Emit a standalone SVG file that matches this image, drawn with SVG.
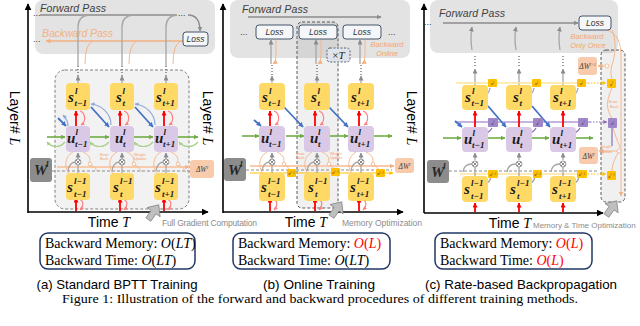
<svg xmlns="http://www.w3.org/2000/svg" width="640" height="326" viewBox="0 0 640 326">
<defs>
<style>
.ny{fill:#ffd966}
.np{fill:#d9c9e6}
.nv{font-family:"Liberation Serif",serif;font-weight:bold;font-style:italic;font-size:15px;fill:#1a1a1a}
.ns{font-family:"Liberation Serif",serif;font-weight:bold;font-style:italic;font-size:9px;fill:#1a1a1a}
.gbox{fill:#e3e3e3}
.dash{fill:#f2f2f2;stroke:#7f7f7f;stroke-width:1;stroke-dasharray:3 2}
.lossr{fill:#f5f6f8;stroke:#44546a;stroke-width:1}
.lt{font-family:"Liberation Sans",sans-serif;font-style:italic;font-size:8.5px;fill:#333}
.fp{font-family:"Liberation Sans",sans-serif;font-style:italic;font-size:10.5px;fill:#404040}
.bp{font-family:"Liberation Sans",sans-serif;font-style:italic;font-size:10.5px;fill:#f4b183}
.bo{font-family:"Liberation Sans",sans-serif;font-style:italic;font-size:7.5px;fill:#f4a56e}
.ax{stroke:#000;stroke-width:1.6;fill:none}
.axl{font-family:"Liberation Sans",sans-serif;font-size:14px;fill:#000}
.fw{stroke:#8c8c8c;stroke-width:1.3;fill:none}
.bw{stroke:#f4b183;stroke-width:1.3;fill:none}
.gr{stroke:#a6a6a6;stroke-width:1.3;fill:none}
.dot{stroke:#404040;stroke-width:1;stroke-dasharray:1 2;fill:none}
.rd{stroke:#ff0000;stroke-width:1.8;fill:none}
.pk{stroke:#ff8080;stroke-width:1.2;fill:none}
.bl{stroke:#4472c4;stroke-width:1.8;fill:none}
.lb{stroke:#8faadc;stroke-width:1.2;fill:none}
.gn{stroke:#70ad47;stroke-width:1.6;fill:none}
.lg{stroke:#a9d18e;stroke-width:1.2;fill:none}
.or{stroke:#f4b183;stroke-width:0.9;fill:none}
.orl{stroke:#f8cbad;stroke-width:1.8;fill:none}
.gd{stroke:#8c8c8c;stroke-width:1;stroke-dasharray:3 2;fill:none}
.gold{stroke:#ffc000;stroke-width:1.2;fill:none}
.lgold{stroke:#ffe699;stroke-width:1.6;fill:none}
.pl{stroke:#8e6bbf;stroke-width:1.2;fill:none}
.mc{fill:#fff;stroke:#7f7f7f;stroke-width:0.8}
.mx{stroke:#595959;stroke-width:0.7}
.oc{fill:#fff;stroke:#f4b183;stroke-width:0.8}
.wb{fill:#8c8c8c}
.db{fill:#f8cbad}
.dt{font-family:"Liberation Serif",serif;font-style:italic;font-size:7.5px;fill:#404040}
.tiny{font-family:"Liberation Sans",sans-serif;font-size:3.8px;fill:#f4a070}
.opt{font-family:"Liberation Sans",sans-serif;font-size:8.5px;fill:#8c8c8c}
.cb{fill:#fff;stroke:#203864;stroke-width:1.5}
.ct{font-family:"Liberation Serif",serif;font-size:14px;fill:#000}
.cap{font-family:"Liberation Sans",sans-serif;font-size:13px;fill:#000}
.fig{font-family:"Liberation Serif",serif;font-size:13.5px;fill:#000}
.ey{fill:#ffc000}
.ep{fill:#9f86c9}
.et{font-family:"Liberation Serif",serif;font-style:italic;font-size:4.5px;fill:#333}
.cur{fill:#bfbfbf;stroke:#7f7f7f;stroke-width:0.7}
.dd{font-family:"Liberation Sans",sans-serif;font-size:9px;fill:#404040}
</style>
<marker id="mK" viewBox="0 0 10 10" refX="9" refY="5" markerWidth="7" markerHeight="7" markerUnits="userSpaceOnUse" orient="auto"><path d="M0,0 L10,5 L0,10 z" fill="#000"/></marker>
<marker id="mG" viewBox="0 0 10 10" refX="9" refY="5" markerWidth="5" markerHeight="5" markerUnits="userSpaceOnUse" orient="auto"><path d="M0,0 L10,5 L0,10 z" fill="#8c8c8c"/></marker>
<marker id="mO" viewBox="0 0 10 10" refX="9" refY="5" markerWidth="5" markerHeight="5" markerUnits="userSpaceOnUse" orient="auto"><path d="M0,0 L10,5 L0,10 z" fill="#f4b183"/></marker>
<marker id="mR" viewBox="0 0 10 10" refX="9" refY="5" markerWidth="5" markerHeight="5" markerUnits="userSpaceOnUse" orient="auto"><path d="M0,0 L10,5 L0,10 z" fill="#ff0000"/></marker>
<marker id="mP" viewBox="0 0 10 10" refX="9" refY="5" markerWidth="4" markerHeight="4" markerUnits="userSpaceOnUse" orient="auto"><path d="M0,0 L10,5 L0,10 z" fill="#ff8080"/></marker>
<marker id="mB" viewBox="0 0 10 10" refX="9" refY="5" markerWidth="5" markerHeight="5" markerUnits="userSpaceOnUse" orient="auto"><path d="M0,0 L10,5 L0,10 z" fill="#4472c4"/></marker>
<marker id="mLB" viewBox="0 0 10 10" refX="9" refY="5" markerWidth="4" markerHeight="4" markerUnits="userSpaceOnUse" orient="auto"><path d="M0,0 L10,5 L0,10 z" fill="#8faadc"/></marker>
<marker id="mGn" viewBox="0 0 10 10" refX="9" refY="5" markerWidth="5" markerHeight="5" markerUnits="userSpaceOnUse" orient="auto"><path d="M0,0 L10,5 L0,10 z" fill="#70ad47"/></marker>
<marker id="mLG" viewBox="0 0 10 10" refX="9" refY="5" markerWidth="4" markerHeight="4" markerUnits="userSpaceOnUse" orient="auto"><path d="M0,0 L10,5 L0,10 z" fill="#a9d18e"/></marker>
<marker id="mY" viewBox="0 0 10 10" refX="9" refY="5" markerWidth="4" markerHeight="4" markerUnits="userSpaceOnUse" orient="auto"><path d="M0,0 L10,5 L0,10 z" fill="#ffc000"/></marker>
<marker id="mPu" viewBox="0 0 10 10" refX="9" refY="5" markerWidth="4" markerHeight="4" markerUnits="userSpaceOnUse" orient="auto"><path d="M0,0 L10,5 L0,10 z" fill="#8e6bbf"/></marker>
<path id="curs" d="M0,-10 L8,-1 L3,-1 L3,8 L-3,8 L-3,-1 L-8,-1 Z"/>
</defs>
<rect width="640" height="326" fill="#fff"/>

<!-- ================= PANEL A ================= -->
<g id="panel-a">
<rect id="a-pass-box" class="gbox" x="35" y="0" width="180" height="54" rx="8"/>
<rect id="a-unroll-box" class="dash" x="55" y="70" width="134" height="139" rx="10"/>
<text class="fp" x="40" y="12" textLength="66">Forward Pass</text>
<text class="bp" x="42" y="37" textLength="71">Backward Pass</text>
<text class="dd" x="33" y="16">...</text>
<text class="dd" x="178" y="16">...</text>
<text class="dd" x="33" y="42">...</text>
<g id="a-connectors">
<line class="fw" x1="40" y1="15" x2="177" y2="15"/>
<path class="fw" d="M188,15 Q200,15 200,31" marker-end="url(#mG)"/>
<path class="bw" d="M183,41 H46" marker-end="url(#mO)"/>
<path class="gr" d="M78,66 V27 Q78,16 89,15"/>
<path class="gr" d="M122,66 V27 Q122,16 133,15"/>
<path class="gr" d="M166,66 V27 Q166,16 177,15"/>
<path class="or" d="M93,41 Q85,44 85,64"/>
<path class="or" d="M137,41 Q129,44 129,64"/>
<path class="or" d="M181,41 Q173,44 173,64"/>
<line class="dot" x1="78" y1="66" x2="78" y2="76"/>
<line class="dot" x1="122" y1="66" x2="122" y2="76"/>
<line class="dot" x1="166" y1="66" x2="166" y2="76"/>
<line class="gr" x1="78" y1="83" x2="78" y2="76" marker-end="url(#mG)"/>
<line class="gr" x1="122" y1="83" x2="122" y2="76" marker-end="url(#mG)"/>
<line class="gr" x1="166" y1="83" x2="166" y2="76" marker-end="url(#mG)"/>
<line class="rd" x1="76" y1="126" x2="76" y2="111" marker-end="url(#mR)"/>
<line class="rd" x1="120" y1="126" x2="120" y2="111" marker-end="url(#mR)"/>
<line class="rd" x1="164" y1="126" x2="164" y2="111" marker-end="url(#mR)"/>
<path class="pk" d="M80,111 C86,113 86,122 81,125" marker-end="url(#mP)"/>
<path class="pk" d="M124,111 C130,113 130,122 125,125" marker-end="url(#mP)"/>
<path class="pk" d="M168,111 C174,113 174,122 169,125" marker-end="url(#mP)"/>
<line class="bl" x1="58" y1="118" x2="66" y2="126" marker-end="url(#mB)"/>
<line class="bl" x1="91" y1="107" x2="109" y2="127" marker-end="url(#mB)"/>
<line class="bl" x1="135" y1="107" x2="153" y2="127" marker-end="url(#mB)"/>
<path class="lb" d="M68,126 C68,121 66,118 63,115" marker-end="url(#mLB)"/>
<path class="lb" d="M111,125 C111,113 101,105 91,104" marker-end="url(#mLB)"/>
<path class="lb" d="M155,125 C155,113 145,105 135,104" marker-end="url(#mLB)"/>
<line class="gn" x1="47" y1="137" x2="65" y2="137" marker-end="url(#mGn)"/>
<line class="gn" x1="90" y1="137" x2="109" y2="137" marker-end="url(#mGn)"/>
<line class="gn" x1="134" y1="137" x2="153" y2="137" marker-end="url(#mGn)"/>
<line class="gn" x1="178" y1="137" x2="198" y2="137" marker-end="url(#mGn)"/>
<path class="lg" d="M65,142 C60,148 52,148 47,142" marker-end="url(#mLG)"/>
<path class="lg" d="M109,142 C104,148 95,148 90,142" marker-end="url(#mLG)"/>
<path class="lg" d="M153,142 C148,148 139,148 134,142" marker-end="url(#mLG)"/>
<path class="lg" d="M198,142 C193,148 184,148 179,142" marker-end="url(#mLG)"/>
<path class="orl" d="M57,167 H189" marker-end="url(#mO)"/>
<line class="gd" x1="52" y1="171" x2="190" y2="171"/>
<line class="gr" x1="78" y1="159" x2="78" y2="153" marker-end="url(#mG)"/>
<line class="gr" x1="122" y1="159" x2="122" y2="153" marker-end="url(#mG)"/>
<line class="gr" x1="166" y1="159" x2="166" y2="153" marker-end="url(#mG)"/>
<line class="gr" x1="78" y1="173" x2="78" y2="165"/>
<line class="gr" x1="122" y1="173" x2="122" y2="165"/>
<line class="gr" x1="166" y1="173" x2="166" y2="165"/>
<path class="gr" d="M68,171 Q69,163 75,162"/>
<path class="gr" d="M112,171 Q113,163 119,162"/>
<path class="gr" d="M156,171 Q157,163 163,162"/>
<path class="or" d="M73,152 C64,157 64,168 70,175"/>
<path class="or" d="M117,152 C108,157 108,168 114,175"/>
<path class="or" d="M161,152 C152,157 152,168 158,175"/>
<path class="or" d="M83,152 C90,155 91,160 89,163 M91,165 C95,167 96,170 98,172"/>
<path class="or" d="M127,152 C134,155 135,160 133,163 M135,165 C139,167 140,170 142,172"/>
<path class="or" d="M171,152 C178,155 179,160 177,163 M179,165 C183,167 184,170 186,172"/>
<circle class="oc" cx="90" cy="164" r="1.8"/>
<circle class="oc" cx="134" cy="164" r="1.8"/>
<circle class="oc" cx="178" cy="164" r="1.8"/>
<circle class="mc" cx="78" cy="162" r="3"/><path class="mx" d="M76,160 L80,164 M80,160 L76,164"/>
<circle class="mc" cx="122" cy="162" r="3"/><path class="mx" d="M120,160 L124,164 M124,160 L120,164"/>
<circle class="mc" cx="166" cy="162" r="3"/><path class="mx" d="M164,160 L168,164 M168,160 L164,164"/>
<line class="rd" x1="76" y1="211" x2="76" y2="198" marker-end="url(#mR)"/>
<line class="rd" x1="120" y1="211" x2="120" y2="198" marker-end="url(#mR)"/>
<line class="rd" x1="164" y1="211" x2="164" y2="198" marker-end="url(#mR)"/>
<path class="pk" d="M79,199 C84,201 84,206 80,210" marker-end="url(#mP)"/>
<path class="pk" d="M123,199 C128,201 128,206 124,210" marker-end="url(#mP)"/>
<path class="pk" d="M167,199 C172,201 172,206 168,210" marker-end="url(#mP)"/>
</g>
<text class="tiny" x="100" y="156">Error</text><text class="tiny" x="100" y="160">Back</text>
<text class="tiny" x="134" y="156">Weight</text><text class="tiny" x="134" y="160">Update</text>
<g id="a-loss"><rect class="lossr" x="183" y="32" width="25" height="14" rx="3"/><text class="lt" x="195.5" y="42" text-anchor="middle">Loss</text></g>
<g id="a-s-l-tm1"><rect class="ny" x="66" y="83" width="24" height="27" rx="4"/><text class="nv" x="68" y="102">s</text><text class="ns" x="75" y="94">l</text><text class="ns" x="74.5" y="106">t−1</text></g>
<g id="a-s-l-t"><rect class="ny" x="110" y="83" width="24" height="27" rx="4"/><text class="nv" x="116" y="102">s</text><text class="ns" x="122.5" y="94">l</text><text class="ns" x="122.5" y="106">t</text></g>
<g id="a-s-l-tp1"><rect class="ny" x="154" y="83" width="24" height="27" rx="4"/><text class="nv" x="156" y="102">s</text><text class="ns" x="163" y="94">l</text><text class="ns" x="162.5" y="106">t+1</text></g>
<g id="a-u-tm1"><rect class="np" x="66" y="126" width="24" height="26" rx="4"/><text class="nv" x="67" y="143">u</text><text class="ns" x="75.5" y="135">l</text><text class="ns" x="75" y="147">t−1</text></g>
<g id="a-u-t"><rect class="np" x="110" y="126" width="24" height="26" rx="4"/><text class="nv" x="115" y="143">u</text><text class="ns" x="123" y="135">l</text><text class="ns" x="123" y="147">t</text></g>
<g id="a-u-tp1"><rect class="np" x="154" y="126" width="24" height="26" rx="4"/><text class="nv" x="155" y="143">u</text><text class="ns" x="163.5" y="135">l</text><text class="ns" x="163" y="147">t+1</text></g>
<g id="a-s-lm1-tm1"><rect class="ny" x="66" y="173" width="24" height="27" rx="4"/><text class="nv" x="67" y="192">s</text><text class="ns" x="74" y="184">l−1</text><text class="ns" x="74" y="197">t−1</text></g>
<g id="a-s-lm1-t"><rect class="ny" x="110" y="173" width="24" height="27" rx="4"/><text class="nv" x="113" y="192">s</text><text class="ns" x="120" y="184">l−1</text><text class="ns" x="120" y="197">t</text></g>
<g id="a-s-lm1-tp1"><rect class="ny" x="154" y="173" width="24" height="27" rx="4"/><text class="nv" x="155" y="192">s</text><text class="ns" x="162" y="184">l−1</text><text class="ns" x="162" y="197">t+1</text></g>
<g id="a-W"><rect class="wb" x="30" y="158" width="22" height="24" rx="3"/><text class="nv" x="34" y="175" style="fill:#262626">W</text><text class="ns" x="46" y="167" style="fill:#262626">l</text></g>
<g id="a-dW"><rect class="db" x="190" y="160" width="24" height="18" rx="3"/><text class="dt" x="202" y="172" text-anchor="middle">ΔW<tspan font-size="5" dy="-3">l</tspan></text></g>
<g id="a-axes">
<line class="ax" x1="28" y1="213" x2="28" y2="4" marker-end="url(#mK)"/>
<line class="ax" x1="28" y1="212" x2="208" y2="212" marker-end="url(#mK)"/>
</g>
<text class="axl" transform="translate(10,118) rotate(90)" text-anchor="middle">Layer# <tspan font-style="italic" font-family="Liberation Serif">L</tspan></text>
<text class="axl" x="109" y="227" text-anchor="middle">Time <tspan font-style="italic" font-family="Liberation Serif">T</tspan></text>
<use href="#curs" class="cur" transform="translate(153,213) rotate(35)"/>
<text class="opt" x="162" y="226" textLength="95">Full Gradient Computation</text>
<g id="a-complexity"><rect class="cb" x="40" y="233" width="155" height="36" rx="8"/>
<text class="ct" x="45" y="248">Backward Memory: <tspan font-style="italic">O</tspan>(<tspan font-style="italic">LT</tspan>)</text>
<text class="ct" x="45" y="265">Backward Time: <tspan font-style="italic">O</tspan>(<tspan font-style="italic">LT</tspan>)</text></g>
<text class="cap" x="117" y="289" text-anchor="middle" textLength="161" lengthAdjust="spacingAndGlyphs">(a) Standard BPTT Training</text>
</g>

<!-- ================= PANEL B ================= -->
<g id="panel-b">
<rect id="b-pass-box" class="gbox" x="230" y="0" width="180" height="58" rx="8"/>
<rect id="b-online-col" x="297" y="22" width="41" height="186" rx="5" fill="#000" fill-opacity="0.06" stroke="#595959" stroke-width="1" stroke-dasharray="3 2"/>
<text class="fp" x="242" y="13" textLength="66">Forward Pass</text>
<text class="dd" x="240" y="35">...</text>
<text class="dd" x="388" y="35">...</text>
<text class="bo" x="387" y="47" text-anchor="middle">Backward</text>
<text class="bo" x="387" y="56" text-anchor="middle">Online</text>
<g id="b-connectors">
<line class="fw" x1="248" y1="17" x2="381" y2="17" stroke="#b0b0b0" marker-end="url(#mG)"/>
<line class="gr" x1="271" y1="64" x2="271" y2="40" marker-end="url(#mG)"/>
<line class="gr" x1="316" y1="64" x2="316" y2="40" marker-end="url(#mG)"/>
<line class="gr" x1="360" y1="64" x2="360" y2="40" marker-end="url(#mG)"/>
<path class="or" d="M276,40 V56 Q276,62 273,64" marker-end="url(#mO)"/>
<path class="or" d="M321,40 V56 Q321,62 318,64" marker-end="url(#mO)"/>
<path class="or" d="M365,40 V56 Q365,62 362,64" marker-end="url(#mO)"/>
<line class="dot" x1="272" y1="65" x2="272" y2="76"/>
<line class="dot" x1="317" y1="65" x2="317" y2="76"/>
<line class="dot" x1="361" y1="65" x2="361" y2="76"/>
<line class="gr" x1="272" y1="83" x2="272" y2="76" marker-end="url(#mG)"/>
<line class="gr" x1="317" y1="83" x2="317" y2="76" marker-end="url(#mG)"/>
<line class="gr" x1="361" y1="83" x2="361" y2="76" marker-end="url(#mG)"/>
<line class="rd" x1="270" y1="126" x2="270" y2="111" marker-end="url(#mR)"/>
<line class="rd" x1="315" y1="126" x2="315" y2="111" marker-end="url(#mR)"/>
<line class="rd" x1="359" y1="126" x2="359" y2="111" marker-end="url(#mR)"/>
<path class="pk" d="M274,111 C280,113 280,122 275,125" marker-end="url(#mP)"/>
<path class="pk" d="M319,111 C325,113 325,122 320,125" marker-end="url(#mP)"/>
<path class="pk" d="M363,111 C369,113 369,122 364,125" marker-end="url(#mP)"/>
<line class="bl" x1="254" y1="120" x2="261" y2="126" marker-end="url(#mB)"/>
<line class="bl" x1="284" y1="107" x2="303" y2="127" marker-end="url(#mB)"/>
<line class="bl" x1="329" y1="107" x2="348" y2="127" marker-end="url(#mB)"/>
<line class="gn" x1="242" y1="136" x2="259" y2="136" marker-end="url(#mGn)"/>
<line class="gn" x1="286" y1="136" x2="304" y2="136" marker-end="url(#mGn)"/>
<line class="gn" x1="330" y1="136" x2="348" y2="136" marker-end="url(#mGn)"/>
<line class="gn" x1="374" y1="136" x2="392" y2="136" marker-end="url(#mGn)"/>
<path class="orl" d="M250,166 H394" marker-end="url(#mO)"/>
<line class="gd" x1="246" y1="170" x2="392" y2="170"/>
<path class="gold" d="M250,173 H393" marker-end="url(#mY)"/>
<line class="gr" x1="272" y1="159" x2="272" y2="153" marker-end="url(#mG)"/>
<line class="gr" x1="317" y1="159" x2="317" y2="153" marker-end="url(#mG)"/>
<line class="gr" x1="361" y1="159" x2="361" y2="153" marker-end="url(#mG)"/>
<line class="gr" x1="272" y1="173" x2="272" y2="165"/>
<line class="gr" x1="317" y1="173" x2="317" y2="165"/>
<line class="gr" x1="361" y1="173" x2="361" y2="165"/>
<path class="gr" d="M262,171 Q263,163 269,162"/>
<path class="gr" d="M307,171 Q308,163 314,162"/>
<path class="gr" d="M351,171 Q352,163 358,162"/>
<path class="or" d="M267,152 C258,157 258,168 264,175"/>
<path class="or" d="M312,152 C303,157 303,168 309,175"/>
<path class="or" d="M356,152 C347,157 347,168 353,175"/>
<path class="or" d="M277,152 C284,155 285,160 283,163 M285,165 C288,167 289,169 290,170"/>
<path class="or" d="M322,152 C329,155 330,160 328,163 M330,165 C333,167 334,169 335,170"/>
<path class="or" d="M366,152 C373,155 374,160 372,163 M374,165 C377,167 378,169 379,170"/>
<circle class="oc" cx="284" cy="164" r="1.8"/>
<circle class="oc" cx="329" cy="164" r="1.8"/>
<circle class="oc" cx="373" cy="164" r="1.8"/>
<circle class="mc" cx="272" cy="162" r="3"/><path class="mx" d="M270,160 L274,164 M274,160 L270,164"/>
<circle class="mc" cx="317" cy="162" r="3"/><path class="mx" d="M315,160 L319,164 M319,160 L315,164"/>
<circle class="mc" cx="361" cy="162" r="3"/><path class="mx" d="M359,160 L363,164 M363,160 L359,164"/>
<line class="rd" x1="270" y1="211" x2="270" y2="198" marker-end="url(#mR)"/>
<line class="rd" x1="315" y1="211" x2="315" y2="198" marker-end="url(#mR)"/>
<line class="rd" x1="359" y1="211" x2="359" y2="198" marker-end="url(#mR)"/>
<path class="pk" d="M273,199 C278,201 278,206 274,210" marker-end="url(#mP)"/>
<path class="pk" d="M318,199 C323,201 323,206 319,210" marker-end="url(#mP)"/>
<path class="pk" d="M362,199 C367,201 367,206 363,210" marker-end="url(#mP)"/>
</g>
<text class="tiny" x="296" y="155">Error</text><text class="tiny" x="296" y="159">Back</text>
<text class="tiny" x="330" y="155">Weight</text><text class="tiny" x="330" y="159">Update</text>
<g id="b-loss1"><rect class="lossr" x="256" y="25" width="37" height="14" rx="3"/><text class="lt" x="274.5" y="35" text-anchor="middle">Loss</text></g>
<g id="b-loss2"><rect class="lossr" x="299" y="25" width="38" height="14" rx="3"/><text class="lt" x="318" y="35" text-anchor="middle">Loss</text></g>
<g id="b-loss3"><rect class="lossr" x="343" y="25" width="38" height="14" rx="3"/><text class="lt" x="362" y="35" text-anchor="middle">Loss</text></g>
<g id="b-xT"><rect x="327" y="48" width="23" height="14" rx="3" fill="#dfe3ea" stroke="#44546a" stroke-width="0.9" stroke-dasharray="2 1.5"/><text x="338.5" y="58.5" text-anchor="middle" font-family="Liberation Serif" font-size="11" fill="#222">×<tspan font-style="italic">T</tspan></text></g>
<g id="b-s-l-tm1"><rect class="ny" x="259" y="83" width="26" height="27" rx="4"/><text class="nv" x="262" y="102">s</text><text class="ns" x="269" y="94">l</text><text class="ns" x="268.5" y="106">t−1</text></g>
<g id="b-s-l-t"><rect class="ny" x="304" y="83" width="26" height="27" rx="4"/><text class="nv" x="311" y="102">s</text><text class="ns" x="317.5" y="94">l</text><text class="ns" x="317.5" y="106">t</text></g>
<g id="b-s-l-tp1"><rect class="ny" x="348" y="83" width="26" height="27" rx="4"/><text class="nv" x="351" y="102">s</text><text class="ns" x="358" y="94">l</text><text class="ns" x="357.5" y="106">t+1</text></g>
<g id="b-u-tm1"><rect class="np" x="259" y="126" width="26" height="26" rx="4"/><text class="nv" x="261" y="143">u</text><text class="ns" x="269.5" y="135">l</text><text class="ns" x="269" y="147">t−1</text></g>
<g id="b-u-t"><rect class="np" x="304" y="126" width="26" height="26" rx="4"/><text class="nv" x="310" y="143">u</text><text class="ns" x="318" y="135">l</text><text class="ns" x="318" y="147">t</text></g>
<g id="b-u-tp1"><rect class="np" x="348" y="126" width="26" height="26" rx="4"/><text class="nv" x="350" y="143">u</text><text class="ns" x="358.5" y="135">l</text><text class="ns" x="358" y="147">t+1</text></g>
<g id="b-s-lm1-tm1"><rect class="ny" x="259" y="173" width="26" height="28" rx="4"/><text class="nv" x="261" y="192">s</text><text class="ns" x="268" y="184">l−1</text><text class="ns" x="268" y="197">t−1</text></g>
<g id="b-s-lm1-t"><rect class="ny" x="304" y="173" width="26" height="28" rx="4"/><text class="nv" x="308" y="192">s</text><text class="ns" x="315" y="184">l−1</text><text class="ns" x="315" y="197">t</text></g>
<g id="b-s-lm1-tp1"><rect class="ny" x="348" y="173" width="26" height="28" rx="4"/><text class="nv" x="350" y="192">s</text><text class="ns" x="357" y="184">l−1</text><text class="ns" x="357" y="197">t+1</text></g>
<g id="b-e1"><rect class="ey" x="287" y="169" width="9" height="8" rx="1"/><text class="et" x="291.5" y="175" text-anchor="middle">e<tspan font-size="3" dy="-1.5">l−1</tspan></text></g>
<g id="b-e2"><rect class="ey" x="331" y="168" width="9" height="8" rx="1"/><text class="et" x="335.5" y="174" text-anchor="middle">e<tspan font-size="3" dy="-1.5">l−1</tspan></text></g>
<g id="b-e3"><rect class="ey" x="376" y="169" width="9" height="8" rx="1"/><text class="et" x="380.5" y="175" text-anchor="middle">e<tspan font-size="3" dy="-1.5">l−1</tspan></text></g>
<g id="b-W"><rect class="wb" x="224" y="158" width="22" height="23" rx="3"/><text class="nv" x="228" y="175" style="fill:#262626">W</text><text class="ns" x="240" y="167" style="fill:#262626">l</text></g>
<g id="b-dW"><rect class="db" x="395" y="158" width="19" height="15" rx="3"/><text class="dt" x="404.5" y="168.5" text-anchor="middle" font-size="6.5">ΔW<tspan font-size="4.5" dy="-3">l</tspan></text></g>
<g id="b-axes">
<line class="ax" x1="223" y1="213" x2="223" y2="4" marker-end="url(#mK)"/>
<line class="ax" x1="223" y1="212" x2="403" y2="212" marker-end="url(#mK)"/>
</g>
<text class="axl" transform="translate(203,118) rotate(90)" text-anchor="middle">Layer# <tspan font-style="italic" font-family="Liberation Serif">L</tspan></text>
<text class="axl" x="306" y="227" text-anchor="middle">Time <tspan font-style="italic" font-family="Liberation Serif">T</tspan></text>
<use href="#curs" class="cur" transform="translate(336,210) rotate(35)"/>
<text class="opt" x="342" y="226" textLength="80">Memory Optimization</text>
<g id="b-complexity"><rect class="cb" x="233" y="233" width="157" height="36" rx="8"/>
<text class="ct" x="238" y="248">Backward Memory: <tspan fill="#ff0000"><tspan font-style="italic">O</tspan>(<tspan font-style="italic">L</tspan>)</tspan></text>
<text class="ct" x="238" y="265">Backward Time: <tspan font-style="italic">O</tspan>(<tspan font-style="italic">LT</tspan>)</text></g>
<text class="cap" x="319" y="289" text-anchor="middle" textLength="112" lengthAdjust="spacingAndGlyphs">(b) Online Training</text>
</g>

<!-- ================= PANEL C ================= -->
<g id="panel-c">
<rect id="c-pass-box" class="gbox" x="430" y="0" width="188" height="53" rx="8"/>
<rect id="c-once-col" x="601" y="50" width="24" height="152" rx="5" fill="#000" fill-opacity="0.06" stroke="#595959" stroke-width="1" stroke-dasharray="3 2"/>
<text class="fp" x="439" y="17" textLength="66">Forward Pass</text>
<text class="dd" x="424" y="25">...</text>
<text class="bo" x="587" y="39" text-anchor="middle">Backward</text>
<text class="bo" x="588" y="48" text-anchor="middle">Only Once</text>
<g id="c-connectors">
<line class="fw" x1="443" y1="23" x2="578" y2="23" marker-end="url(#mG)"/>
<path class="gr" d="M472,50 Q470,38 472,27" marker-end="url(#mG)"/>
<path class="gr" d="M516,50 Q514,38 516,27" marker-end="url(#mG)"/>
<path class="gr" d="M560,50 Q558,38 560,27" marker-end="url(#mG)"/>
<line class="dot" x1="475" y1="56" x2="475" y2="68"/>
<line class="dot" x1="519" y1="56" x2="519" y2="68"/>
<line class="dot" x1="563" y1="56" x2="563" y2="68"/>
<line class="gr" x1="475" y1="85" x2="475" y2="69" marker-end="url(#mG)"/>
<line class="gr" x1="519" y1="85" x2="519" y2="69" marker-end="url(#mG)"/>
<line class="gr" x1="563" y1="85" x2="563" y2="69" marker-end="url(#mG)"/>
<line class="lgold" x1="456" y1="83" x2="588" y2="83"/>
<line class="gold" x1="588" y1="83" x2="606" y2="83" stroke-dasharray="1.5 1.5" marker-end="url(#mY)"/>
<line class="pl" x1="455" y1="122" x2="590" y2="122"/>
<line class="pl" x1="590" y1="122" x2="607" y2="122" stroke-dasharray="1.5 1.5" marker-end="url(#mPu)"/>
<path class="gr" d="M484,96 Q489,94 490,88"/>
<path class="gr" d="M528,96 Q533,94 534,88"/>
<path class="gr" d="M572,96 Q577,94 578,88"/>
<path class="pl" d="M484,134 Q490,132 492,128" stroke-width="0.8"/>
<path class="pl" d="M528,134 Q534,132 536,128" stroke-width="0.8"/>
<path class="pl" d="M572,134 Q578,132 580,128" stroke-width="0.8"/>
<line class="rd" x1="475" y1="127" x2="475" y2="111" marker-end="url(#mR)"/>
<line class="rd" x1="519" y1="127" x2="519" y2="111" marker-end="url(#mR)"/>
<line class="rd" x1="563" y1="127" x2="563" y2="111" marker-end="url(#mR)"/>
<line class="bl" x1="455" y1="121" x2="462" y2="127" marker-end="url(#mB)"/>
<line class="bl" x1="488" y1="106" x2="506" y2="127" marker-end="url(#mB)"/>
<line class="bl" x1="532" y1="106" x2="550" y2="127" marker-end="url(#mB)"/>
<line class="gn" x1="443" y1="138" x2="461" y2="138" marker-end="url(#mGn)"/>
<line class="gn" x1="488" y1="138" x2="505" y2="138" marker-end="url(#mGn)"/>
<line class="gn" x1="532" y1="138" x2="549" y2="138" marker-end="url(#mGn)"/>
<line class="gn" x1="576" y1="138" x2="593" y2="138" marker-end="url(#mGn)"/>
<line class="gd" x1="449" y1="171" x2="598" y2="171"/>
<line class="lgold" x1="460" y1="174" x2="588" y2="174"/>
<line class="gold" x1="588" y1="174" x2="606" y2="174" stroke-dasharray="1.5 1.5" marker-end="url(#mY)"/>
<line class="gr" x1="475" y1="160" x2="475" y2="153" marker-end="url(#mG)"/>
<line class="gr" x1="519" y1="160" x2="519" y2="153" marker-end="url(#mG)"/>
<line class="gr" x1="563" y1="160" x2="563" y2="153" marker-end="url(#mG)"/>
<line class="gr" x1="475" y1="176" x2="475" y2="167"/>
<line class="gr" x1="519" y1="176" x2="519" y2="167"/>
<line class="gr" x1="563" y1="176" x2="563" y2="167"/>
<path class="gr" d="M463,172 Q464,164 472,164"/>
<path class="gr" d="M507,172 Q508,164 516,164"/>
<path class="gr" d="M551,172 Q552,164 560,164"/>
<path class="gr" d="M485,184 Q490,182 491,177" stroke-width="0.8"/>
<path class="gr" d="M529,184 Q534,182 535,177" stroke-width="0.8"/>
<path class="gr" d="M573,184 Q578,182 579,177" stroke-width="0.8"/>
<circle class="mc" cx="475" cy="164" r="3"/><path class="mx" d="M473,162 L477,166 M477,162 L473,166"/>
<circle class="mc" cx="519" cy="164" r="3"/><path class="mx" d="M517,162 L521,166 M521,162 L517,166"/>
<circle class="mc" cx="563" cy="164" r="3"/><path class="mx" d="M561,162 L565,166 M565,162 L561,166"/>
<line class="rd" x1="475" y1="212" x2="475" y2="203" marker-end="url(#mR)"/>
<line class="rd" x1="519" y1="212" x2="519" y2="203" marker-end="url(#mR)"/>
<line class="rd" x1="563" y1="212" x2="563" y2="203" marker-end="url(#mR)"/>
<path class="or" d="M607,30 C618,34 621,44 621,56 V196" stroke-width="1.1" marker-end="url(#mO)"/>
<path class="or" d="M612,30 C616,40 616,50 613,62 C609,72 612,78 612,79"/>
<path class="or" d="M612,88 C606,100 606,110 612,118"/>
<path class="or" d="M613,128 C616,138 619,144 620,148 M618,153 C614,160 612,166 612,171"/>
<path class="or" d="M605,66 H598" marker-end="url(#mO)"/>
<path class="or" d="M617,151 H599" marker-end="url(#mO)"/>
<circle class="oc" cx="607" cy="66" r="2"/>
<circle class="oc" cx="619" cy="151" r="2"/>
<line class="pl" x1="612" y1="128" x2="612" y2="146" stroke="#b4a0d8" stroke-width="0.8"/>
</g>
<text class="tiny" x="609" y="103">Error</text><text class="tiny" x="610" y="108">Back</text>
<text class="tiny" x="600" y="148">Weight</text><text class="tiny" x="600" y="153">Update</text>
<g id="c-loss"><rect class="lossr" x="579" y="16" width="32" height="14" rx="3"/><text class="lt" x="595" y="26" text-anchor="middle">Loss</text></g>
<g id="c-s-l-tm1"><rect class="ny" x="462" y="85" width="26" height="25" rx="4"/><text class="nv" x="465" y="102">s</text><text class="ns" x="472" y="94">l</text><text class="ns" x="471.5" y="106">t−1</text></g>
<g id="c-s-l-t"><rect class="ny" x="506" y="85" width="26" height="25" rx="4"/><text class="nv" x="513" y="102">s</text><text class="ns" x="519.5" y="94">l</text><text class="ns" x="519.5" y="106">t</text></g>
<g id="c-s-l-tp1"><rect class="ny" x="550" y="85" width="26" height="25" rx="4"/><text class="nv" x="553" y="102">s</text><text class="ns" x="560" y="94">l</text><text class="ns" x="559.5" y="106">t+1</text></g>
<g id="c-u-tm1"><rect class="np" x="462" y="127" width="26" height="25" rx="4"/><text class="nv" x="464" y="144">u</text><text class="ns" x="472.5" y="136">l</text><text class="ns" x="472" y="148">t−1</text></g>
<g id="c-u-t"><rect class="np" x="506" y="127" width="26" height="25" rx="4"/><text class="nv" x="512" y="144">u</text><text class="ns" x="520" y="136">l</text><text class="ns" x="520" y="148">t</text></g>
<g id="c-u-tp1"><rect class="np" x="550" y="127" width="26" height="25" rx="4"/><text class="nv" x="552" y="144">u</text><text class="ns" x="560.5" y="136">l</text><text class="ns" x="560" y="148">t+1</text></g>
<g id="c-s-lm1-tm1"><rect class="ny" x="462" y="176" width="26" height="26" rx="4"/><text class="nv" x="464" y="194">s</text><text class="ns" x="471" y="186">l−1</text><text class="ns" x="471" y="199">t−1</text></g>
<g id="c-s-lm1-t"><rect class="ny" x="506" y="176" width="26" height="26" rx="4"/><text class="nv" x="510" y="194">s</text><text class="ns" x="517" y="186">l−1</text><text class="ns" x="517" y="199">t</text></g>
<g id="c-s-lm1-tp1"><rect class="ny" x="550" y="176" width="26" height="26" rx="4"/><text class="nv" x="552" y="194">s</text><text class="ns" x="559" y="186">l−1</text><text class="ns" x="559" y="199">t+1</text></g>
<g id="c-ey1"><rect class="ey" x="488" y="79" width="9" height="8" rx="1"/><text class="et" x="492.5" y="85" text-anchor="middle">e<tspan font-size="3" dy="-1.5">l</tspan></text></g>
<g id="c-ey2"><rect class="ey" x="532" y="79" width="9" height="8" rx="1"/><text class="et" x="536.5" y="85" text-anchor="middle">e<tspan font-size="3" dy="-1.5">l</tspan></text></g>
<g id="c-ey3"><rect class="ey" x="577" y="79" width="9" height="8" rx="1"/><text class="et" x="581.5" y="85" text-anchor="middle">e<tspan font-size="3" dy="-1.5">l</tspan></text></g>
<g id="c-ey4"><rect class="ey" x="607" y="79" width="9" height="9" rx="1"/><text class="et" x="611.5" y="85.5" text-anchor="middle">e<tspan font-size="3" dy="-1.5">l</tspan></text></g>
<g id="c-ep1"><rect class="ep" x="488" y="118" width="10" height="9" rx="1"/><text class="et" x="493" y="124.5" text-anchor="middle">e<tspan font-size="3" dy="-1.5">l</tspan></text></g>
<g id="c-ep2"><rect class="ep" x="533" y="118" width="10" height="9" rx="1"/><text class="et" x="538" y="124.5" text-anchor="middle">e<tspan font-size="3" dy="-1.5">l</tspan></text></g>
<g id="c-ep3"><rect class="ep" x="578" y="118" width="10" height="9" rx="1"/><text class="et" x="583" y="124.5" text-anchor="middle">e<tspan font-size="3" dy="-1.5">l</tspan></text></g>
<g id="c-ep4"><rect class="ep" x="608" y="118" width="9" height="10" rx="1"/><text class="et" x="612.5" y="125" text-anchor="middle">e<tspan font-size="3" dy="-1.5">l</tspan></text></g>
<g id="c-eb1"><rect class="ey" x="488" y="170" width="10" height="8" rx="1"/><text class="et" x="493" y="176" text-anchor="middle">e<tspan font-size="3" dy="-1.5">l−1</tspan></text></g>
<g id="c-eb2"><rect class="ey" x="533" y="170" width="9" height="8" rx="1"/><text class="et" x="537.5" y="176" text-anchor="middle">e<tspan font-size="3" dy="-1.5">l−1</tspan></text></g>
<g id="c-eb3"><rect class="ey" x="577" y="170" width="10" height="8" rx="1"/><text class="et" x="582" y="176" text-anchor="middle">e<tspan font-size="3" dy="-1.5">l−1</tspan></text></g>
<g id="c-eb4"><rect class="ey" x="607" y="171" width="9" height="9" rx="1"/><text class="et" x="611.5" y="177.5" text-anchor="middle">e<tspan font-size="3" dy="-1.5">l−1</tspan></text></g>
<g id="c-dW1"><rect class="db" x="578" y="57" width="19" height="18" rx="3"/><text class="dt" x="587.5" y="69" text-anchor="middle" font-size="6">ΔW<tspan font-size="4" dy="-3">l+1</tspan></text></g>
<g id="c-dW"><rect class="db" x="579" y="147" width="19" height="17" rx="3"/><text class="dt" x="588.5" y="158.5" text-anchor="middle" font-size="6.5">ΔW<tspan font-size="4.5" dy="-3">l</tspan></text></g>
<g id="c-W"><rect class="wb" x="427" y="160" width="22" height="23" rx="3"/><text class="nv" x="431" y="177" style="fill:#262626">W</text><text class="ns" x="443" y="169" style="fill:#262626">l</text></g>
<g id="c-axes">
<line class="ax" x1="424" y1="213" x2="424" y2="4" marker-end="url(#mK)"/>
<line class="ax" x1="424" y1="213" x2="603" y2="213" marker-end="url(#mK)"/>
</g>
<text class="axl" transform="translate(407,118) rotate(90)" text-anchor="middle">Layer# <tspan font-style="italic" font-family="Liberation Serif">L</tspan></text>
<text class="axl" x="510" y="228" text-anchor="middle">Time <tspan font-style="italic" font-family="Liberation Serif">T</tspan></text>
<use href="#curs" class="cur" transform="translate(611,209) rotate(35)"/>
<text class="opt" x="533" y="228" style="font-size:8px">Memory &amp; Time Optimization</text>
<g id="c-complexity"><rect class="cb" x="435" y="233" width="157" height="36" rx="8"/>
<text class="ct" x="440" y="248">Backward Memory: <tspan fill="#ff0000"><tspan font-style="italic">O</tspan>(<tspan font-style="italic">L</tspan>)</tspan></text>
<text class="ct" x="440" y="265">Backward Time: <tspan fill="#ff0000"><tspan font-style="italic">O</tspan>(<tspan font-style="italic">L</tspan>)</tspan></text></g>
<text class="cap" x="521" y="289" text-anchor="middle" textLength="192" lengthAdjust="spacingAndGlyphs">(c) Rate-based Backpropagation</text>
</g>

<text class="fig" x="320" y="303" text-anchor="middle" textLength="516" lengthAdjust="spacingAndGlyphs">Figure 1: Illustration of the forward and backward procedures of different training methods.</text>
</svg>
